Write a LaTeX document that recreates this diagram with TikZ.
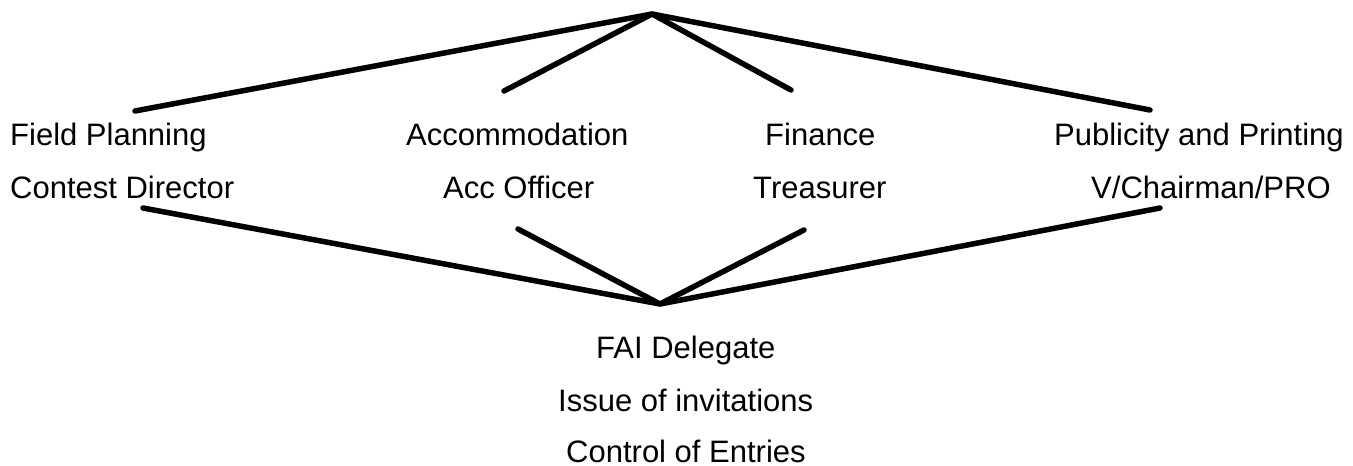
\documentclass[tikz,border=0pt]{standalone}
\usepackage{fontspec}
\setmainfont{Liberation Sans}
\begin{document}
\begin{tikzpicture}[x=1pt,y=-1pt,
  lbl/.style={inner sep=0pt,anchor=base west,font=\fontsize{31}{37}\selectfont},
  link/.style={line width=5.5pt,line cap=round,line join=round}]
\useasboundingbox (0,0) rectangle (1353,466);
% apexes
\coordinate (top) at (652,14);
\coordinate (bot) at (660,304);
% upper line ends
\coordinate (t1) at (135,111);
\coordinate (t2) at (504,91);
\coordinate (t3) at (791,90);
\coordinate (t4) at (1150,110);
% lower line ends
\coordinate (b1) at (143,208);
\coordinate (b2) at (518,229);
\coordinate (b3) at (804,230);
\coordinate (b4) at (1160,208);
% labels
\node[lbl] (fp) at (10,145) {Field Planning};
\node[lbl] (cd) at (10,198) {Contest Director};
\node[lbl] (ac) at (406,145) {Accommodation};
\node[lbl] (ao) at (443,198) {Acc Officer};
\node[lbl] (fi) at (765,145) {Finance};
\node[lbl] (tr) at (753,198) {Treasurer};
\node[lbl] (pp) at (1054,145) {Publicity and Printing};
\node[lbl] (vc) at (1091,198) {V/Chairman/PRO};
\node[lbl] (fai) at (596,358) {FAI Delegate};
\node[lbl] (iss) at (558,411) {Issue of invitations};
\node[lbl] (ctl) at (566,462) {Control of Entries};
% connectors
\draw[link] (t1) -- (top) -- (t4);
\draw[link] (t2) -- (top) -- (t3);
\draw[link] (b1) -- (bot) -- (b4);
\draw[link] (b2) -- (bot) -- (b3);
\end{tikzpicture}
\end{document}
